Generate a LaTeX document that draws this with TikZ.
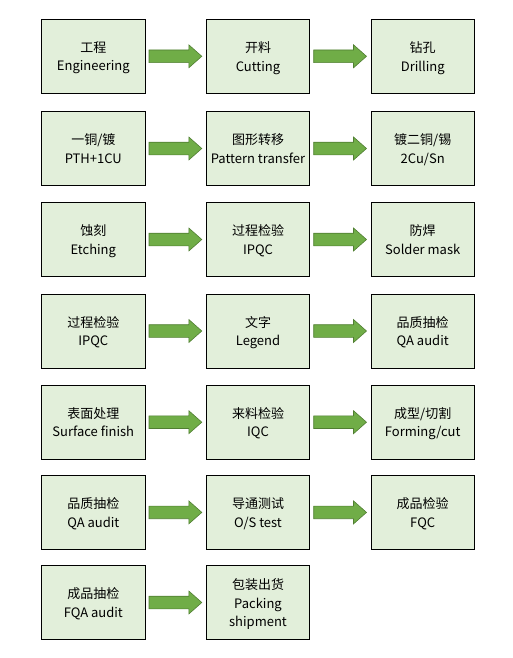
\documentclass[tikz,border=0pt]{standalone}
\usepackage{fontspec}
\setmainfont{Noto Sans CJK SC}
\usepackage{xcolor}
\definecolor{boxgreen}{HTML}{E2EFDA}
\definecolor{arrowgreen}{HTML}{70AD47}
\definecolor{arrowedge}{HTML}{507E32}
\usepackage{tikz}
\usetikzlibrary{positioning, calc}

\tikzset{
  stepbox/.style={draw=black, line width=0.9pt, fill=boxgreen, minimum width=103.5pt,
    minimum height=74pt, inner sep=2pt, align=center, text depth=-6pt},
  flowarrow/.style={fill=arrowgreen, draw=arrowedge, line width=0.6pt, line join=miter}
}

\begin{document}
\begin{tikzpicture}[x=1pt, y=1pt, font=\fontsize{13}{18.5}\selectfont]
  \useasboundingbox (0,0) rectangle (512,-658);
  % row 1
  \node[stepbox] (s11) at (93.3,-56.3)  {工程\\Engineering};
  \node[stepbox] (s12) at (258.0,-56.3) {开料\\Cutting};
  \node[stepbox] (s13) at (422.7,-56.3) {钻孔\\Drilling};
  % row 2
  \node[stepbox] (s21) at (93.3,-148.5)  {一铜/镀\\PTH+1CU};
  \node[stepbox] (s22) at (258.0,-148.5) {图形转移\\Pattern transfer};
  \node[stepbox] (s23) at (422.7,-148.5) {镀二铜/锡\\2Cu/Sn};
  % row 3
  \node[stepbox] (s31) at (93.3,-239.5)  {蚀刻\\Etching};
  \node[stepbox] (s32) at (258.0,-239.5) {过程检验\\IPQC};
  \node[stepbox] (s33) at (422.7,-239.5) {防焊\\Solder mask};
  % row 4
  \node[stepbox] (s41) at (93.3,-331)  {过程检验\\IPQC};
  \node[stepbox] (s42) at (258.0,-331) {文字\\Legend};
  \node[stepbox] (s43) at (422.7,-331) {品质抽检\\QA audit};
  % row 5
  \node[stepbox] (s51) at (93.3,-422.2)  {表面处理\\Surface finish};
  \node[stepbox] (s52) at (258.0,-422.2) {来料检验\\IQC};
  \node[stepbox] (s53) at (422.7,-422.2) {成型/切割\\Forming/cut};
  % row 6
  \node[stepbox] (s61) at (93.3,-512.4)  {品质抽检\\QA audit};
  \node[stepbox] (s62) at (258.0,-512.4) {导通测试\\O/S test};
  \node[stepbox] (s63) at (422.7,-512.4) {成品检验\\FQC};
  % row 7
  \node[stepbox] (s71) at (93.3,-602.5)  {成品抽检\\FQA audit};
  \node[stepbox] (s72) at (258.0,-602.5) {包装出货\\Packing\\shipment};
  % arrows
  \foreach \a/\b in {11/12,12/13,21/22,22/23,31/32,32/33,41/42,42/43,51/52,52/53,61/62,62/63,71/72}{
    \coordinate (p) at ($(s\a.east)+(3.5,0)$);
    \coordinate (q) at ($(s\b.west)+(-4,0)$);
    \filldraw[flowarrow] ($(p)+(0,6.3)$) -- ($(q)+(-13,6.3)$) -- ($(q)+(-13,11.5)$) -- (q)
      -- ($(q)+(-13,-11.5)$) -- ($(q)+(-13,-6.3)$) -- ($(p)+(0,-6.3)$) -- cycle;
  }
\end{tikzpicture}
\end{document}
